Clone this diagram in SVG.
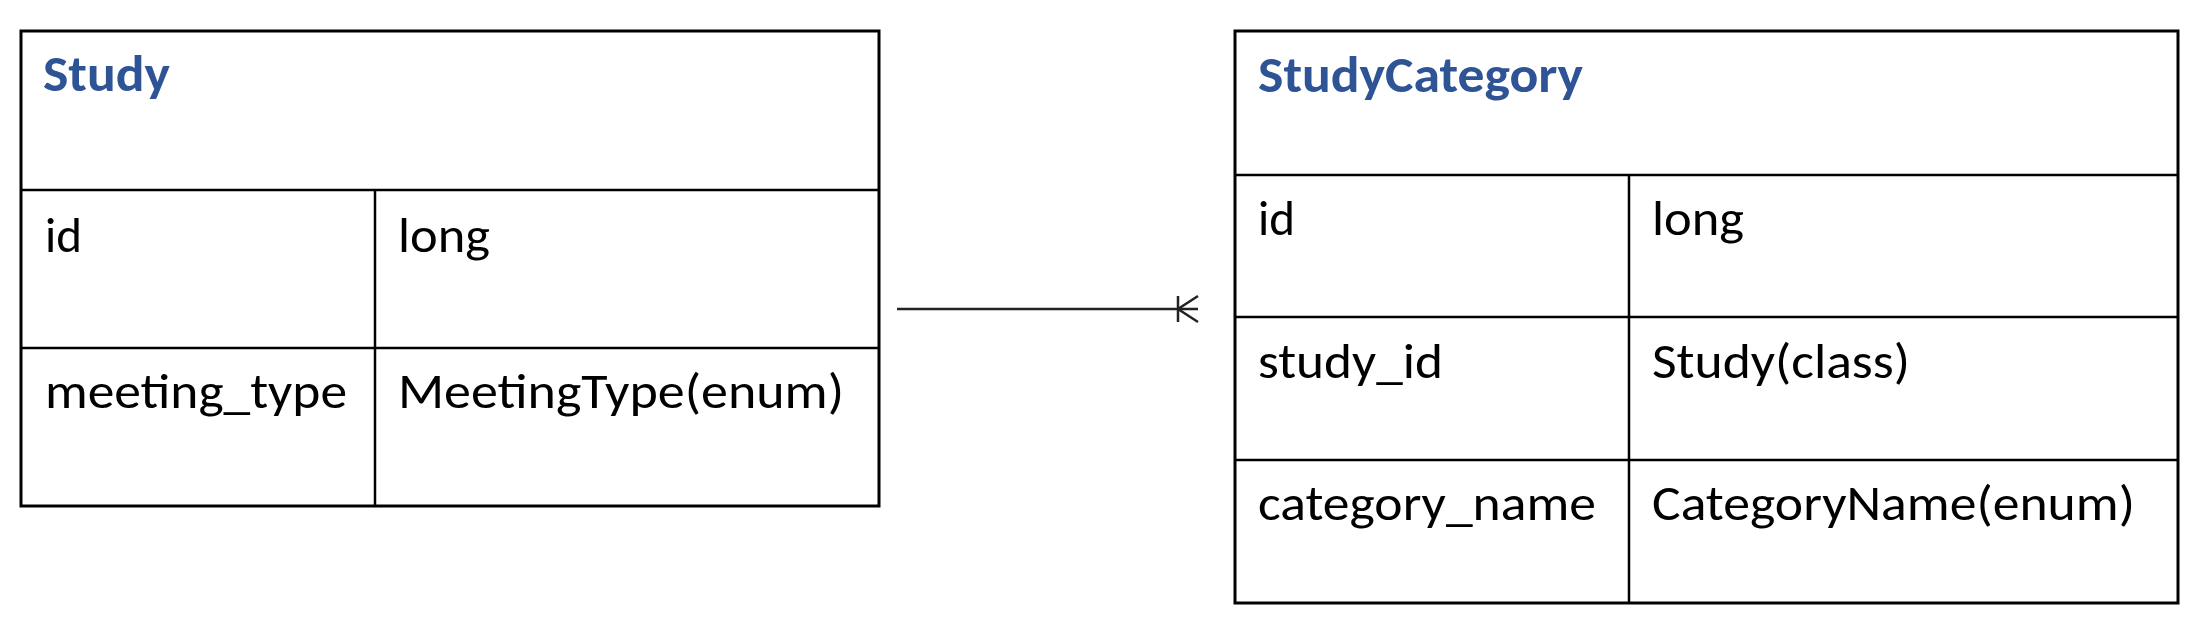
<svg xmlns="http://www.w3.org/2000/svg" width="2210" height="640" viewBox="0 0 2210 640">
<style>
.box{fill:#fff;stroke:#000;stroke-width:3}
.ln{stroke:#000;stroke-width:2.5;fill:none}
.t{font-family:Carlito,Lato,"Liberation Sans",sans-serif;font-size:50px;fill:#000}
.h{font-family:Carlito,Lato,"Liberation Sans",sans-serif;font-size:50px;font-weight:bold;fill:#2F5496}
.conn{stroke:#222;stroke-width:2.5;fill:none}
</style>
<rect width="2210" height="640" fill="#fff"/>
<g id="study">
<rect class="box" x="21" y="31" width="858" height="475"/>
<line class="ln" x1="21" y1="190" x2="879" y2="190"/>
<line class="ln" x1="21" y1="348" x2="879" y2="348"/>
<line class="ln" x1="375" y1="190" x2="375" y2="506"/>
<text class="h" x="43" y="91" textLength="127" lengthAdjust="spacingAndGlyphs">Study</text>
<text class="t" x="45" y="252" textLength="37" lengthAdjust="spacingAndGlyphs">id</text>
<text class="t" x="398" y="252" textLength="92" lengthAdjust="spacingAndGlyphs">long</text>
<text class="t" x="45" y="408" textLength="302" lengthAdjust="spacingAndGlyphs">meeting_type</text>
<text class="t" x="398" y="408" textLength="446" lengthAdjust="spacingAndGlyphs">MeetingType(enum)</text>
</g>
<g id="studycategory">
<rect class="box" x="1235" y="31" width="943" height="572"/>
<line class="ln" x1="1235" y1="175" x2="2178" y2="175"/>
<line class="ln" x1="1235" y1="317" x2="2178" y2="317"/>
<line class="ln" x1="1235" y1="460" x2="2178" y2="460"/>
<line class="ln" x1="1629" y1="175" x2="1629" y2="603"/>
<text class="h" x="1258" y="92" textLength="325" lengthAdjust="spacingAndGlyphs">StudyCategory</text>
<text class="t" x="1258" y="235" textLength="37" lengthAdjust="spacingAndGlyphs">id</text>
<text class="t" x="1652" y="235" textLength="92" lengthAdjust="spacingAndGlyphs">long</text>
<text class="t" x="1258" y="378" textLength="185" lengthAdjust="spacingAndGlyphs">study_id</text>
<text class="t" x="1652" y="378" textLength="258" lengthAdjust="spacingAndGlyphs">Study(class)</text>
<text class="t" x="1258" y="520" textLength="338" lengthAdjust="spacingAndGlyphs">category_name</text>
<text class="t" x="1652" y="520" textLength="483" lengthAdjust="spacingAndGlyphs">CategoryName(enum)</text>
</g>
<g id="connectors">
<line class="conn" x1="897" y1="309" x2="1198" y2="309"/>
<line class="conn" x1="1178" y1="296" x2="1178" y2="322"/>
<path class="conn" d="M1198,296 L1178,309 L1198,322"/>
</g>
</svg>
